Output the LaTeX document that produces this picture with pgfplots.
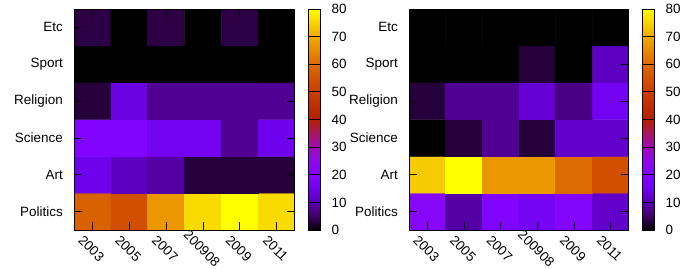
\documentclass[border=0pt]{standalone}
\usepackage{fontspec}
\setmainfont{Liberation Sans}
\usepackage{pgfplots}
\usepackage{pgfplotstable}
\pgfplotsset{compat=1.18}

% x: 0=2003 1=2005 2=2007 3=200908 4=2009 5=2011
% y: 0=Politics 1=Art 2=Science 3=Religion 4=Sport 5=Etc
\pgfplotstableread{
x y c
0 0 58
1 0 54
2 0 67
3 0 76
4 0 80
5 0 76
0 1 15
1 1 11
2 1 9
3 1 3
4 1 3
5 1 3
0 2 20
1 2 20
2 2 16
3 2 16
4 2 8
5 2 15
0 3 3
1 3 14
2 3 8
3 3 8
4 3 8
5 3 8
0 4 0
1 4 0
2 4 0
3 4 0
4 4 0
5 4 0
0 5 3.5
1 5 0
2 5 3.5
3 5 0
4 5 3.5
5 5 0
}\lefttable

\pgfplotstableread{
x y c
0 0 22
1 0 9
2 0 20
3 0 17
4 0 21
5 0 12
0 1 74
1 1 80
2 1 67
3 1 67
4 1 60
5 1 54
0 2 0
1 2 3
2 2 8
3 2 3
4 2 12
5 2 12
0 3 3
1 3 8
2 3 8
3 3 13
4 3 7
5 3 16
0 4 0
1 4 0
2 4 0
3 4 3
4 4 0
5 4 11
0 5 0
1 5 0
2 5 0
3 5 0
4 5 0
5 5 0
}\righttable

\newcommand{\fnt}{\fontsize{13.5}{13.5}\selectfont}

\pgfplotsset{
  colormap={gnu}{rgb255=(0,0,0) rgb255=(64,0,98) rgb255=(90,0,180) rgb255=(110,2,236)
    rgb255=(128,4,255) rgb255=(143,8,236) rgb255=(156,13,180) rgb255=(169,21,98)
    rgb255=(180,32,0) rgb255=(191,45,0) rgb255=(202,62,0) rgb255=(211,83,0)
    rgb255=(221,108,0) rgb255=(230,137,0) rgb255=(239,171,0) rgb255=(247,210,0)
    rgb255=(255,255,0)},
  heat/.style={
    scale only axis,
    width=221bp, height=221bp,
    xmin=-0.5, xmax=5.5, ymin=-0.5, ymax=5.5,
    enlargelimits=false,
    axis on top=true,
    xtick={0,...,5}, ytick={0,...,5},
    xticklabels={2003,2005,2007,200908,2009,2011},
    yticklabels={Politics,Art,Science,Religion,Sport,Etc},
    tick align=inside,
    major tick length=8bp,
    tick style={black, line width=0.8bp},
    axis line style={line width=1bp},
    yticklabel style={font=\fnt, inner sep=0pt, anchor=east, xshift=-11bp},
    xticklabel style={font=\fnt, inner sep=0pt, anchor=center, xshift=-1bp, yshift=-18.5bp, rotate=-45},
    point meta min=0, point meta max=80,
    colorbar right,
    colorbar style={
      at={(parent axis.north east)}, anchor=north west, xshift=5bp,
      scale only axis,
      width=12bp,
      height=221bp,
      ytick={0,10,...,80},
      yticklabel pos=right,
      tick align=inside,
      major tick length=12bp,
      tick style={black, line width=0.8bp},
      axis line style={line width=1bp},
      /pgf/number format/assume math mode=true,
      yticklabel style={font=\fnt, inner sep=0pt, anchor=west, xshift=11bp},
    },
  },
}

\begin{document}
\begin{tikzpicture}
\path[use as bounding box] (0,0) rectangle (691bp,269bp);
\begin{axis}[heat, at={(74bp,39bp)}, anchor=south west]
\addplot[matrix plot*, mesh/cols=6, point meta=explicit] table[x=x, y=y, meta=c] {\lefttable};
\end{axis}
\begin{axis}[heat, at={(409bp,39bp)}, anchor=south west, width=220bp]
\addplot[matrix plot*, mesh/cols=6, point meta=explicit] table[x=x, y=y, meta=c] {\righttable};
\end{axis}
\end{tikzpicture}
\end{document}
